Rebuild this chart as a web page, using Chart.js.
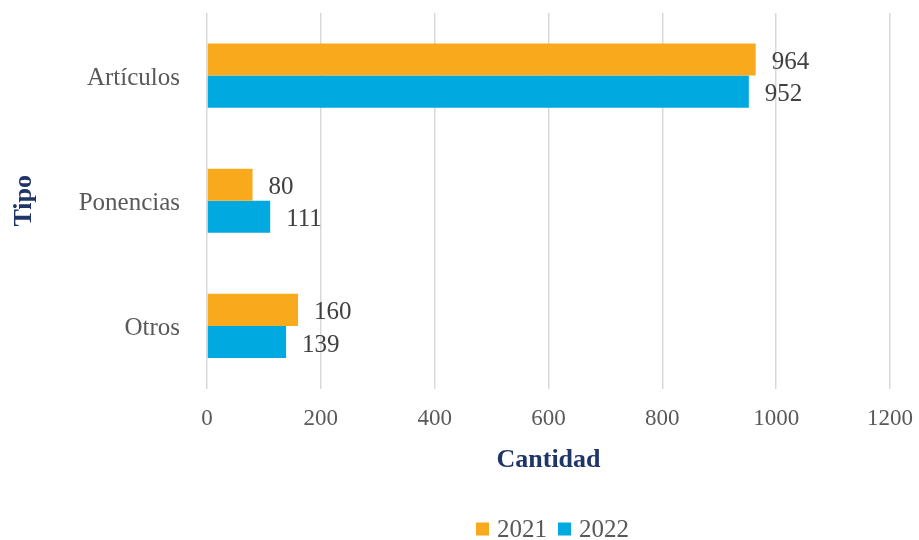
<!DOCTYPE html>
<html>
<head>
<meta charset="utf-8">
<script src="https://cdn.jsdelivr.net/npm/chart.js@4/dist/chart.umd.min.js"></script>
<style>
  html, body { margin: 0; padding: 0; background: #ffffff; }
  #wrap { width: 919px; height: 540px; position: relative; }
</style>
</head>
<body>
<div id="wrap"><canvas id="c" width="919" height="540"></canvas></div>
<script>
const categories = ["Artículos", "Ponencias", "Otros"];
const series2021 = [964, 80, 160];
const series2022 = [952, 111, 139];
const seriesLabels = ["2021", "2022"];
const xTicks = [0, 200, 400, 600, 800, 1000, 1200];

const SERIF = "'Liberation Serif', 'Times New Roman', serif";
const COLORS = ["#F9AA1C", "#00A9E0"];

const dataLabels = {
  id: "dataLabels",
  afterDatasetsDraw(chart) {
    const ctx = chart.ctx;
    ctx.save();
    ctx.font = "25px " + SERIF;
    ctx.fillStyle = "#404040";
    ctx.textAlign = "left";
    ctx.textBaseline = "middle";
    chart.data.datasets.forEach((ds, i) => {
      const meta = chart.getDatasetMeta(i);
      meta.data.forEach((bar, j) => {
        ctx.fillText(String(ds.data[j]), bar.x + 16, bar.y + 3);
      });
    });
    ctx.restore();
  }
};

const customLegend = {
  id: "customLegend",
  afterDraw(chart) {
    const ctx = chart.ctx;
    ctx.save();
    ctx.font = "25px " + SERIF;
    ctx.textBaseline = "middle";
    ctx.textAlign = "left";
    const box = 13, gapBoxText = 8, gapItems = 11;
    const items = chart.data.datasets.map(ds => ({ label: ds.label, color: ds.backgroundColor }));
    let total = 0;
    items.forEach((it, i) => {
      it.w = ctx.measureText(it.label).width;
      total += box + gapBoxText + it.w + (i < items.length - 1 ? gapItems : 0);
    });
    const ca = chart.chartArea;
    let x = (ca.left + ca.right) / 2 + 4 - total / 2;
    const y = 529;
    items.forEach(it => {
      ctx.fillStyle = it.color;
      ctx.fillRect(x, y - box / 2, box, box);
      x += box + gapBoxText;
      ctx.fillStyle = "#595959";
      ctx.fillText(it.label, x, y + 1);
      x += it.w + gapItems;
    });
    ctx.restore();
  }
};

new Chart(document.getElementById("c"), {
  type: "bar",
  data: {
    labels: categories,
    datasets: [
      { label: seriesLabels[0], data: series2021, backgroundColor: COLORS[0], borderWidth: 0 },
      { label: seriesLabels[1], data: series2022, backgroundColor: COLORS[1], borderWidth: 0 }
    ]
  },
  options: {
    indexAxis: "y",
    responsive: false,
    animation: false,
    devicePixelRatio: 1,
    categoryPercentage: 0.512,
    barPercentage: 1,
    layout: { padding: { top: 13, right: 29, bottom: 60, left: 0 } },
    plugins: {
      legend: { display: false },
      tooltip: { enabled: false }
    },
    scales: {
      x: {
        min: xTicks[0],
        max: xTicks[xTicks.length - 1],
        afterBuildTicks(axis) { axis.ticks = xTicks.map(v => ({ value: v })); },
        grid: { color: "#D9D9D9", lineWidth: 1.5, drawTicks: false },
        border: { display: false },
        ticks: {
          color: "#595959",
          font: { family: SERIF, size: 23 },
          padding: 16.5,
          callback: v => String(v)
        },
        title: {
          display: true,
          text: "Cantidad",
          color: "#1F3469",
          font: { family: SERIF, size: 26, weight: "bold" },
          padding: { top: 8, bottom: 4 }
        },
        afterFit(axis) { axis.paddingLeft = 0; axis.paddingRight = 0; axis.height = 91.5; }
      },
      y: {
        grid: { display: false, drawTicks: false },
        border: { display: false },
        ticks: {
          color: "#595959",
          font: { family: SERIF, size: 25 },
          padding: 27,
          labelOffset: 3
        },
        title: {
          display: true,
          text: "Tipo",
          color: "#1F3469",
          font: { family: SERIF, size: 26, weight: "bold" },
          padding: { top: 9, bottom: 0 }
        },
        afterFit(axis) { axis.width = 207; axis.paddingTop = 0; axis.paddingBottom = 0; }
      }
    }
  },
  plugins: [dataLabels, customLegend]
});
</script>
</body>
</html>
